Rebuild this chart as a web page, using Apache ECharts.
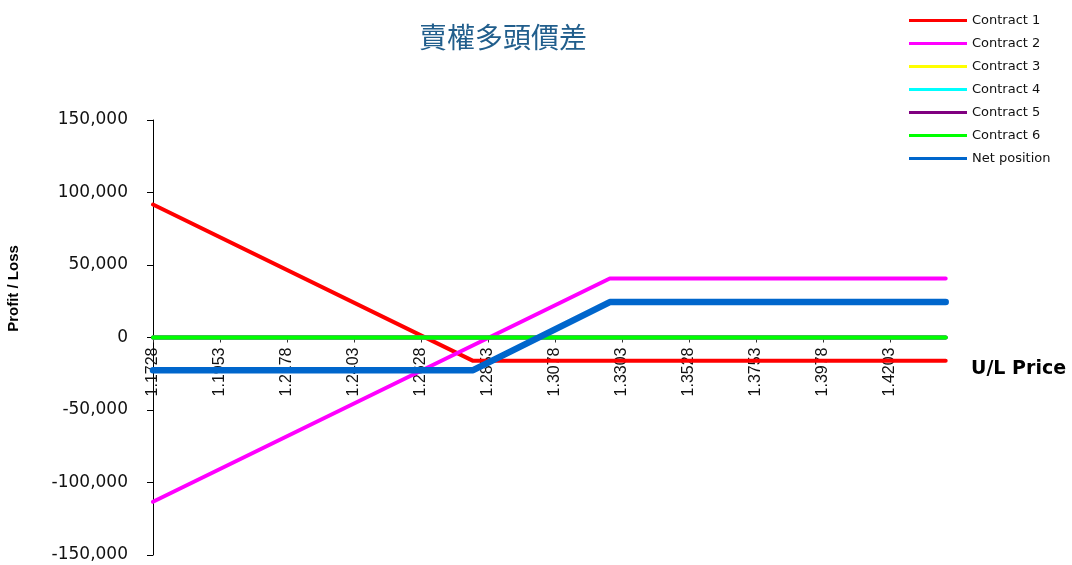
<!DOCTYPE html>
<html>
<head>
<meta charset="utf-8">
<title>賣權多頭價差</title>
<script src="https://cdn.jsdelivr.net/npm/echarts@6/dist/echarts.min.js"></script>
<style>
  html, body { margin: 0; padding: 0; background: #ffffff; }
  #chart { width: 1072px; height: 565px; }
</style>
</head>
<body>
<div id="chart"></div>
<script>
// Underlying price range and the labelled prices along the x axis
const priceStart = 1.1728;
const priceEnd = 1.439;
const priceTicks = [1.1728, 1.1953, 1.2178, 1.2403, 1.2628, 1.2853, 1.3078, 1.3303, 1.3528, 1.3753, 1.3978, 1.4203];

// Profit / loss tick values
const plTicks = [-150000, -100000, -50000, 0, 50000, 100000, 150000];

// Payoff vertices [price, profit/loss] for each leg and the combined position
const contract1 = [[1.1728, 91700], [1.2803, -16100], [1.439, -16100]];
const contract2 = [[1.1728, -113300], [1.3262, 40700], [1.439, 40700]];
const contract3 = [[1.1728, 0], [1.439, 0]];
const contract4 = [[1.1728, 0], [1.439, 0]];
const contract5 = [[1.1728, 0], [1.439, 0]];
const contract6 = [[1.1728, 0], [1.439, 0]];
const netPosition = [[1.1728, -22500], [1.2803, -22500], [1.3262, 24400], [1.439, 24400]];

const seriesNames = ['Contract 1', 'Contract 2', 'Contract 3', 'Contract 4', 'Contract 5', 'Contract 6', 'Net position'];
const seriesData = [contract1, contract2, contract3, contract4, contract5, contract6, netPosition];
const seriesColors = ['#FF0000', '#FF00FF', '#FFFF00', '#00FFFF', '#800080', '#00FF00', '#0066CC'];
const seriesWidths = [4, 4, 4, 4, 4, 4, 6.5];

// Plot frame
const gridTop = 120;
const gridBottom = 10;
const gridHeight = 565 - gridTop - gridBottom;
// the price axis crosses the P/L axis at zero, which sits mid-height
const zeroOffset = -gridHeight * (0 - plTicks[0]) / (plTicks[plTicks.length - 1] - plTicks[0]);

const chart = echarts.init(document.getElementById('chart'), null, { renderer: 'canvas' });

function thousands(v) {
  const s = Math.abs(v).toString().replace(/\B(?=(\d{3})+(?!\d))/g, ',');
  return (v < 0 ? '-' : '') + s;
}

chart.setOption({
  animation: false,
  backgroundColor: '#ffffff',
  title: {
    text: '賣權多頭價差',
    left: 498,
    textAlign: 'center',
    top: 18,
    textStyle: {
      fontFamily: '"Noto Sans CJK TC", "Noto Sans CJK SC", sans-serif',
      fontSize: 28,
      fontWeight: 'normal',
      color: '#215E8C'
    }
  },
  legend: {
    orient: 'vertical',
    left: 904,
    top: 8,
    icon: 'rect',
    itemWidth: 58,
    itemHeight: 3,
    itemGap: 8,
    textStyle: {
      fontFamily: '"DejaVu Sans", sans-serif',
      fontSize: 13,
      lineHeight: 15,
      color: '#111111'
    },
    data: seriesNames
  },
  graphic: [{
    type: 'text',
    left: 971,
    top: 360,
    style: {
      text: 'U/L Price',
      font: 'bold 19px "DejaVu Sans", sans-serif',
      fill: '#000000'
    }
  }],
  grid: {
    left: 153,
    right: 1072 - 945.7,
    top: gridTop,
    bottom: gridBottom,
    containLabel: false,
    outerBoundsMode: 'none'
  },
  xAxis: {
    type: 'value',
    position: 'bottom',
    offset: zeroOffset,
    min: priceStart,
    max: priceEnd,
    axisLine: { show: true, onZero: false, lineStyle: { color: '#000000', width: 1 } },
    axisTick: {
      show: true,
      length: 5,
      customValues: priceTicks,
      lineStyle: { color: '#333333' }
    },
    axisLabel: {
      customValues: priceTicks,
      rotate: 90,
      margin: 10,
      fontFamily: '"Liberation Sans", Arial, sans-serif',
      fontSize: 16,
      color: '#111111',
      formatter: v => v.toFixed(4)
    },
    splitLine: { show: false }
  },
  yAxis: {
    type: 'value',
    min: plTicks[0],
    max: plTicks[plTicks.length - 1],
    interval: 50000,
    name: 'Profit / Loss',
    nameLocation: 'middle',
    nameRotate: 90,
    nameGap: 132,
    nameTextStyle: {
      fontFamily: '"Liberation Sans", Arial, sans-serif',
      fontSize: 15,
      fontWeight: 'bold',
      color: '#000000',
      padding: [0, 0, 0, 98]
    },
    axisLine: { show: true, onZero: false, lineStyle: { color: '#000000', width: 1 } },
    axisTick: { show: true, length: 6, lineStyle: { color: '#000000' } },
    axisLabel: {
      margin: 25,
      fontFamily: '"DejaVu Sans", sans-serif',
      fontSize: 17,
      color: '#111111',
      formatter: v => thousands(v)
    },
    splitLine: { show: false }
  },
  series: seriesData.map((d, i) => ({
    name: seriesNames[i],
    type: 'line',
    data: d,
    symbol: 'none',
    color: seriesColors[i],
    lineStyle: { color: seriesColors[i], width: seriesWidths[i], cap: 'round', join: 'round' },
    itemStyle: { color: seriesColors[i] },
    z: 2 + i
  }))
});
</script>
</body>
</html>
